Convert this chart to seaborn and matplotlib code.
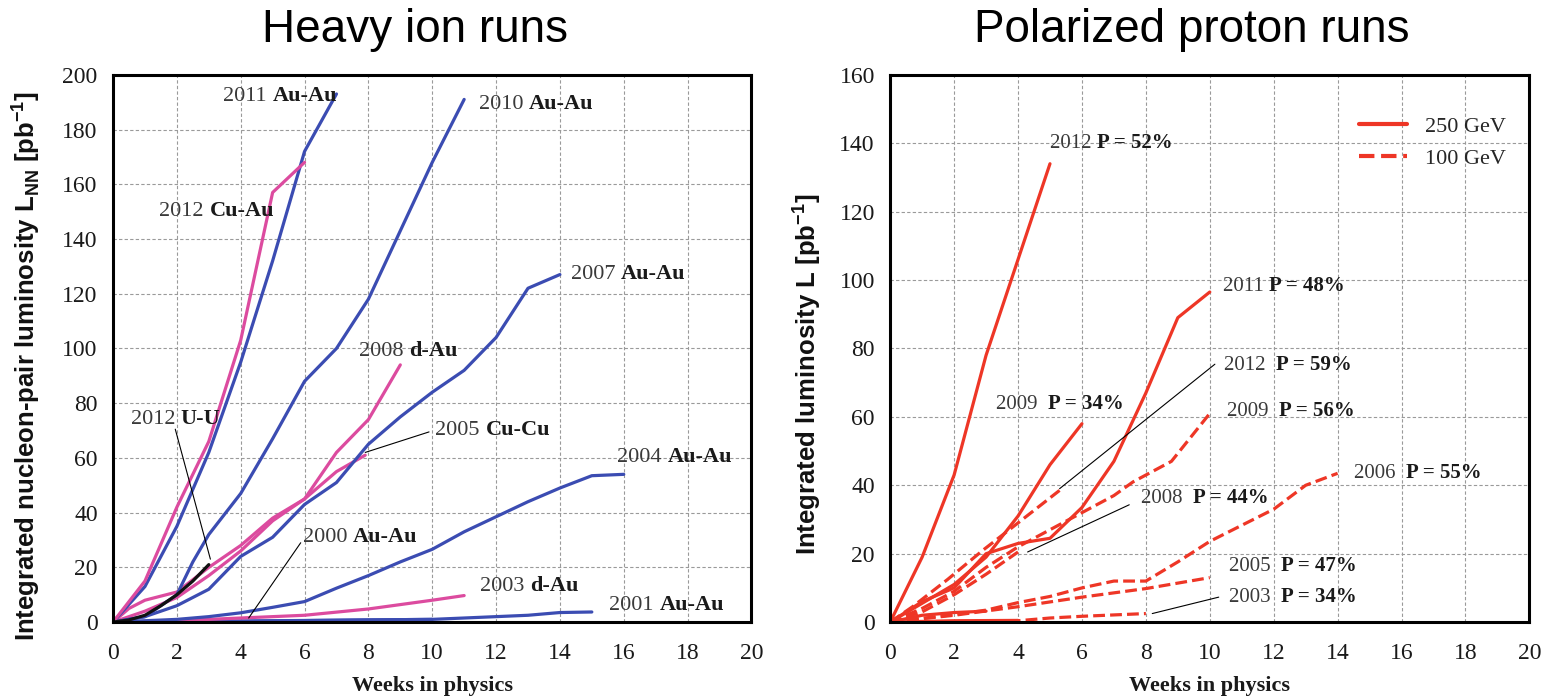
import numpy as np
import pandas as pd
import matplotlib
matplotlib.use("Agg")
import matplotlib.pyplot as plt
import seaborn as sns

# Datos: runs de iones pesados (semanas, luminosidad)
# -----------------------------------------------------------------------
weeks_11auau = [0, 1, 2, 3, 4, 5, 6, 7]
lum_11auau = [0, 13, 35, 62, 95, 132, 172, 193]
weeks_12cuau = [0, 1, 2, 3, 4, 5, 6]
lum_12cuau = [0, 15, 42, 66, 103, 157, 168]
weeks_10auau = [0, 1, 2, 2.5, 3, 4, 5, 6, 7, 8, 9, 10, 11]
lum_10auau = [0, 2, 10, 22, 32, 47, 67, 88, 100, 118, 143, 168, 191]
weeks_07auau = [0, 1, 2, 3, 4, 5, 6, 7, 8, 9, 10, 11, 12, 13, 14]
lum_07auau = [0, 2, 6, 12, 24, 31, 43, 51, 65, 75, 84, 92, 104, 122, 127]
weeks_08dau = [0, 0.5, 1, 2, 3, 4, 5, 6, 7, 8, 9]
lum_08dau = [0, 5, 8, 11, 20, 28, 38, 45, 62, 74, 94]
weeks_05cucu = [0, 1, 2, 3, 4, 5, 6, 7, 7.9]
lum_05cucu = [0, 4, 9, 17, 26, 37, 45, 55, 61]
weeks_04auau = [0, 1, 2, 3, 4, 5, 6, 7, 8, 9, 10, 11, 12, 13, 14, 15, 16]
lum_04auau = [0, 0.5, 1, 2, 3.4, 5.4, 7.5, 12.4, 17, 22, 26.6, 33, 38.5, 44, 49, 53.5, 54]
weeks_03dau = [0, 2, 4, 6, 8, 9, 10, 11]
lum_03dau = [0, 0.5, 1.5, 2.5, 4.8, 6.4, 8, 9.7]
weeks_01auau = [0, 4, 8, 10, 12, 13, 14, 15]
lum_01auau = [0, 0.3, 0.8, 1, 2, 2.5, 3.5, 3.7]
weeks_00auau = [0, 2, 4, 6, 8, 10]
lum_00auau = [0, 0.2, 0.4, 0.6, 0.8, 1.0]
weeks_12uu = [0, 0.5, 1, 1.5, 2, 2.5, 3]
lum_12uu = [0, 0.8, 2.5, 6, 10, 15, 21]

heavy_runs = [
    ("2000", "Au-Au", weeks_00auau, lum_00auau, "blue"),
    ("2001", "Au-Au", weeks_01auau, lum_01auau, "blue"),
    ("2003", "d-Au", weeks_03dau, lum_03dau, "magenta"),
    ("2004", "Au-Au", weeks_04auau, lum_04auau, "blue"),
    ("2005", "Cu-Cu", weeks_05cucu, lum_05cucu, "magenta"),
    ("2007", "Au-Au", weeks_07auau, lum_07auau, "blue"),
    ("2008", "d-Au", weeks_08dau, lum_08dau, "magenta"),
    ("2010", "Au-Au", weeks_10auau, lum_10auau, "blue"),
    ("2011", "Au-Au", weeks_11auau, lum_11auau, "blue"),
    ("2012", "Cu-Au", weeks_12cuau, lum_12cuau, "magenta"),
    ("2012", "U-U", weeks_12uu, lum_12uu, "black"),
]

# etiquetas: (año, especie, x, y, inicio del puntero, punta del puntero)
heavy_labels = [
    ("2011", "Au-Au", 3.45, 192, None, None),
    ("2010", "Au-Au", 11.45, 189, None, None),
    ("2012", "Cu-Au", 1.45, 150, None, None),
    ("2007", "Au-Au", 14.35, 127, None, None),
    ("2008", "d-Au", 7.7, 99, None, None),
    ("2012", "U-U", 0.55, 74, (1.95, 70.5), (3.05, 23)),
    ("2005", "Cu-Cu", 10.1, 70, (9.9, 69.5), (7.9, 62)),
    ("2004", "Au-Au", 15.8, 60, None, None),
    ("2000", "Au-Au", 5.95, 31, (5.88, 29), (4.25, 1.5)),
    ("2003", "d-Au", 11.5, 13, None, None),
    ("2001", "Au-Au", 15.55, 6, None, None),
]

# Datos: runs de protones polarizados
# -----------------------------------------------------------------------
weeks_12p250 = [0, 1, 2, 3, 4, 5]
lum_12p250 = [0, 19, 43, 78, 106, 134]
weeks_11p250 = [0, 1, 2, 3, 4, 5, 6, 7, 8, 9, 10]
lum_11p250 = [0, 6, 10, 20, 23, 24.5, 33.5, 47, 67, 89, 96.5]
weeks_09p250 = [0, 1, 2, 3, 4, 5, 6]
lum_09p250 = [0, 5.5, 11, 19, 31, 46, 58]
weeks_a250 = [0, 1, 2, 3]
lum_a250 = [0, 2, 2.8, 3.2]
weeks_b250 = [0, 2, 4]
lum_b250 = [0, 0.4, 0.5]
weeks_12p100 = [0, 0.7, 1.8, 2.9, 4, 5.3]
lum_12p100 = [0, 4.5, 12.5, 21, 29, 38.5]
weeks_09p100 = [0, 1, 2, 3, 4, 5, 5.8, 7, 7.6, 8.8, 10]
lum_09p100 = [0, 4, 9, 16, 22, 27, 31, 37, 41, 47, 61]
weeks_08p100 = [0, 1, 2, 3, 4]
lum_08p100 = [0, 3, 8, 14, 20.5]
weeks_06p100 = [0, 2, 3, 4, 5, 6, 7, 8, 9, 10, 12, 13, 14]
lum_06p100 = [0, 2.2, 3.5, 5.7, 7.5, 10, 12, 12, 17.6, 23.6, 33, 40, 43.5]
weeks_05p100 = [0, 2, 4, 6, 8, 10]
lum_05p100 = [0, 2, 4.5, 7.3, 9.8, 13]
weeks_03p100 = [0, 4, 5, 6, 8]
lum_03p100 = [0, 0.4, 1.2, 1.7, 2.5]

proton_runs = [
    (weeks_12p250, lum_12p250, "-"),
    (weeks_11p250, lum_11p250, "-"),
    (weeks_09p250, lum_09p250, "-"),
    (weeks_a250, lum_a250, "-"),
    (weeks_b250, lum_b250, "-"),
    (weeks_12p100, lum_12p100, "--"),
    (weeks_09p100, lum_09p100, "--"),
    (weeks_08p100, lum_08p100, "--"),
    (weeks_06p100, lum_06p100, "--"),
    (weeks_05p100, lum_05p100, "--"),
    (weeks_03p100, lum_03p100, "--"),
]

proton_labels = [
    ("2012", "P = 52%", 5.0, 140, None, None),
    ("2011", "P = 48%", 10.4, 98, None, None),
    ("2012 ", "P = 59%", 10.45, 75, (10.16, 75.4), (5.3, 39)),
    ("2009 ", "P = 56%", 10.55, 61.5, None, None),
    ("2009 ", "P = 34%", 3.3, 63.5, None, None),
    ("2006 ", "P = 55%", 14.5, 43.5, None, None),
    ("2008 ", "P = 44%", 7.85, 36, (7.48, 34.3), (4.3, 20.5)),
    ("2005 ", "P = 47%", 10.6, 16.4, None, None),
    ("2003 ", "P = 34%", 10.6, 7.3, (10.28, 7.3), (8.2, 2.5)),
]

colores = {"blue": "#3b4cb2", "magenta": "#dc4b9f", "black": "#111111"}
rojo = "#ee3626"

sns.set_theme(style="white")
serif = ["Liberation Serif", "DejaVu Serif"]
sans = ["Liberation Sans", "DejaVu Sans"]
plt.rcParams["font.family"] = serif
plt.rcParams["mathtext.fontset"] = "custom"
plt.rcParams["mathtext.rm"] = "Liberation Sans"
plt.rcParams["mathtext.bf"] = "Liberation Sans:bold"

fig = plt.figure(figsize=(15.59, 6.99), dpi=100)
ax1 = fig.add_axes([0.0725, 0.110, 0.4095, 0.783])
ax2 = fig.add_axes([0.571, 0.110, 0.41, 0.783])


def style_axes(ax, ymax, ystep):
    ax.set_xlim(0, 20)
    ax.set_ylim(0, ymax)
    ax.set_xticks(np.arange(0, 21, 2))
    ax.set_yticks(np.arange(0, ymax + 1, ystep))
    ax.grid(True, color="#9a9a9a", linestyle=(0, (3, 2)), linewidth=0.8)
    for s in ax.spines.values():
        s.set_color("black")
        s.set_linewidth(2.2)
    ax.tick_params(axis="x", labelsize=17, length=0, pad=15)
    ax.tick_params(axis="y", labelsize=17, length=0, pad=11)
    for t in ax.get_xticklabels() + ax.get_yticklabels():
        t.set_family(serif)
        t.set_color("#1a1a1a")
    ax.set_xlabel("Weeks in physics", fontsize=16, fontweight="bold", family=serif,
                  labelpad=9, color="#1a1a1a")


def add_label(ax, year, species, x, y, start, tip, size):
    t = ax.text(x, y, year + " ", fontsize=size, family=serif, color="#3a3a3a",
                ha="left", va="center")
    ax.annotate(species, xy=(1, 0), xycoords=t, fontsize=size, family=serif,
                fontweight="bold", color="#1a1a1a", ha="left", va="bottom")
    if tip is not None:
        ax.annotate("", xy=tip, xytext=start,
                    arrowprops=dict(arrowstyle="-", color="black", lw=0.8,
                                    shrinkA=0, shrinkB=0))


# --- Panel izquierdo: iones pesados ---
for year, species, wk, lum, col in heavy_runs:
    sns.lineplot(x=wk, y=lum, ax=ax1, color=colores[col], linewidth=2.3,
                 estimator=None, sort=False)
style_axes(ax1, 200, 20)
ax1.set_ylabel(r"Integrated nucleon-pair luminosity L$_{\mathbf{NN}}$ [pb$^{\mathbf{-1}}$]",
               fontsize=18.5, fontweight="bold", family=sans, color="#111111")
ax1.yaxis.set_label_coords(-0.112, 0.468)
for year, species, x, y, start, tip in heavy_labels:
    add_label(ax1, year, species, x, y, start, tip, 16)

# --- Panel derecho: protones polarizados ---
for wk, lum, ls in proton_runs:
    sns.lineplot(x=wk, y=lum, ax=ax2, color=rojo, linewidth=2.3, linestyle=ls,
                 estimator=None, sort=False)
style_axes(ax2, 160, 20)
ax2.set_ylabel(r"Integrated luminosity L [pb$^{\mathbf{-1}}$]",
               fontsize=18.5, fontweight="bold", family=sans, color="#111111")
ax2.yaxis.set_label_coords(-0.105, 0.452)
for year, species, x, y, start, tip in proton_labels:
    add_label(ax2, year, species, x, y, start, tip, 15)

leg_handles = [plt.Line2D([], [], color=rojo, lw=3, ls="-"),
               plt.Line2D([], [], color=rojo, lw=3, ls="--")]
ax2.legend(leg_handles, ["250 GeV", "100 GeV"], loc="upper right", frameon=False,
           prop={"family": serif, "size": 16}, bbox_to_anchor=(0.995, 0.96),
           handlelength=2.2, labelspacing=0.5)

fig.text(415 / 1559, 1 - 30 / 699, "Heavy ion runs", fontsize=33, family=sans,
         color="black", ha="center", va="center")
fig.text(1192 / 1559, 1 - 30 / 699, "Polarized proton runs", fontsize=33, family=sans,
         color="black", ha="center", va="center")

fig.savefig("out.png", dpi=100)
